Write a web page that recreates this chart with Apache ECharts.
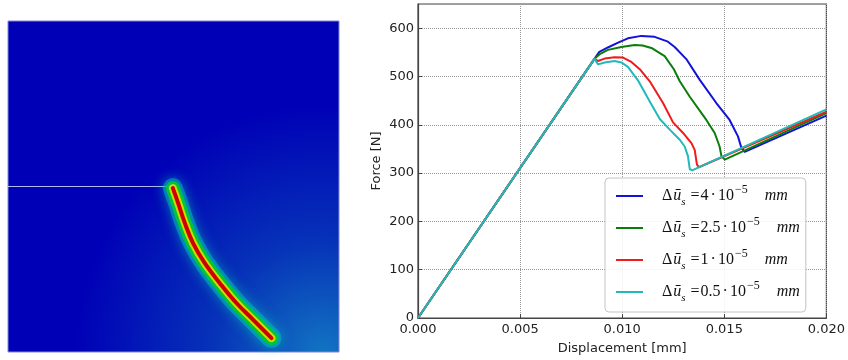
<!DOCTYPE html>
<html>
<head>
<meta charset="utf-8">
<script src="https://cdn.jsdelivr.net/npm/echarts@6/dist/echarts.min.js"></script>
<style>
html, body { margin: 0; padding: 0; background: #fff; }
#chart { width: 848px; height: 360px; }
</style>
</head>
<body>
<div id="chart"></div>
<script>
// force-displacement curves, x in mm, y in N
var names = ['4', '2.5', '1', '0.5'];
var colors = ['#1212d8', '#0a7d0a', '#ee1c1c', '#20baba'];

var blueX = [0, 0.00865, 0.00888, 0.0093, 0.0098, 0.01028, 0.01094, 0.01159, 0.01224, 0.01257, 0.01314, 0.0138, 0.01461, 0.01526, 0.01567, 0.01584, 0.0160, 0.02];
var blueY = [0, 537, 551, 560, 570, 579, 584, 582, 572, 561, 536, 493, 445, 410, 376, 352, 344, 419];

var greenX = [0, 0.00865, 0.0089, 0.0093, 0.00996, 0.01061, 0.011, 0.01143, 0.01208, 0.01253, 0.01282, 0.01331, 0.01412, 0.01453, 0.01477, 0.01486, 0.01502, 0.02];
var greenY = [0, 537, 546, 555, 561, 565, 564, 559, 542, 515, 490, 458, 410, 383, 355, 335, 328, 424];

var redX = [0, 0.00865, 0.00881, 0.00914, 0.00963, 0.01004, 0.01045, 0.01086, 0.01135, 0.012, 0.01249, 0.01298, 0.01339, 0.01355, 0.01366, 0.01375, 0.02];
var redY = [0, 537, 532, 537, 540, 539, 530, 515, 490, 445, 405, 383, 362, 348, 318, 312, 427];

var cyanX = [0, 0.00865, 0.00874, 0.00882, 0.00914, 0.00963, 0.00996, 0.01028, 0.01077, 0.01135, 0.01184, 0.01233, 0.01282, 0.01306, 0.01322, 0.01331, 0.01345, 0.02];
var cyanY = [0, 537, 530, 525, 529, 532, 529, 520, 492, 448, 412, 390, 369, 355, 335, 308, 306, 432];

// crack path in the left contour picture (normalised 0..1)
var notchX = [0, 0.479];
var notchY = [0.5, 0.5];
var crackX = [0.498, 0.514, 0.534, 0.559, 0.594, 0.640, 0.690, 0.740, 0.796];
var crackY = [0.495, 0.450, 0.390, 0.329, 0.269, 0.208, 0.148, 0.098, 0.042];

function zip(xs, ys) {
	return xs.map(function(x, i) { return [x, ys[i]]; });
}

var curves = [zip(blueX, blueY), zip(greenX, greenY), zip(redX, redY), zip(cyanX, cyanY)];
var crack = zip(crackX, crackY);

var myChart = echarts.init(document.getElementById('chart'));

var serif = 'Liberation Serif';
var lineSeries = curves.map(function(d, i) {
	return {
		name: names[i],
		type: 'line',
		xAxisIndex: 1,
		yAxisIndex: 1,
		data: d,
		symbol: 'none',
		smooth: false,
		lineStyle: { color: colors[i], width: 2, join: 'round' },
		itemStyle: { color: colors[i] },
		z: 3 + i
	};
});

// crack drawn as layered thick lines (cyan glow -> green -> yellow -> red)
var crackLayers = [
	{ w: 20, c: 'rgba(0,190,190,0.5)', blur: 12 },
	{ w: 14, c: '#00c43c', blur: 0 },
	{ w: 8, c: '#c8de00', blur: 0 },
	{ w: 4, c: '#d00000', blur: 0 }
];
var crackSeries = crackLayers.map(function(l, i) {
	return {
		type: 'line',
		xAxisIndex: 0,
		yAxisIndex: 0,
		data: crack,
		symbol: 'none',
		smooth: 0.4,
		silent: true,
		lineStyle: { color: l.c, width: l.w, cap: 'round', join: 'round', shadowBlur: l.blur, shadowColor: '#00d0b0' },
		z: 2 + i
	};
});

var option = {
	animation: false,
	color: colors,
	grid: [{
		left: 8,
		top: 21,
		width: 331,
		height: 331,
		show: true,
		borderColor: '#8088d8',
		borderWidth: 1,
		backgroundColor: {
			type: 'radial', x: 0.95, y: 1.0, r: 0.75,
			colorStops: [
				{ offset: 0, color: '#1274c2' },
				{ offset: 0.45, color: '#0632b8' },
				{ offset: 1, color: '#0000b6' }
			]
		}
	}, {
		left: 418,
		top: 4,
		right: 21,
		bottom: 41,
		show: true,
		borderColor: '#444',
		borderWidth: 1.2
	}],
	legend: {
		orient: 'vertical',
		left: 605,
		top: 178,
		padding: [6, 6, 8, 11],
		itemGap: 8,
		itemWidth: 27,
		itemHeight: 2,
		icon: 'rect',
		backgroundColor: 'rgba(255,255,255,0.85)',
		borderColor: '#c4c4c4',
		borderWidth: 1,
		borderRadius: 4,
		data: names,
		formatter: function(name) {
			return '{d|Δ}{u|ū}{s|s}{e|=}{t|' + name + '}{c|·}{t|10}{p|−5}{m|mm}';
		},
		textStyle: {
			color: '#111',
			rich: {
				d: { fontFamily: serif, fontSize: 16, lineHeight: 24, padding: [0, 0, 0, 14] },
				u: { fontFamily: serif, fontSize: 16, fontStyle: 'italic', lineHeight: 24, padding: [0, 0, 0, 1] },
				s: { fontFamily: serif, fontSize: 11, fontStyle: 'italic', lineHeight: 12, verticalAlign: 'bottom', padding: [0, 5, 0, 0] },
				e: { fontFamily: serif, fontSize: 16, lineHeight: 24, padding: [0, 1, 0, 0] },
				t: { fontFamily: serif, fontSize: 16, lineHeight: 24 },
				c: { fontFamily: serif, fontSize: 16, lineHeight: 24, padding: [0, 2, 0, 2] },
				p: { fontFamily: serif, fontSize: 12, lineHeight: 12, verticalAlign: 'top', padding: [0, 17, 0, 1] },
				m: { fontFamily: serif, fontSize: 16, fontStyle: 'italic', lineHeight: 24 }
			}
		}
	},
	xAxis: [{
		gridIndex: 0,
		type: 'value',
		min: 0,
		max: 1,
		show: false
	}, {
		gridIndex: 1,
		type: 'value',
		min: 0,
		max: 0.02,
		interval: 0.005,
		name: 'Displacement [mm]',
		nameLocation: 'middle',
		nameGap: 24,
		nameTextStyle: { fontFamily: 'DejaVu Sans', fontSize: 13, color: '#222' },
		axisLine: { lineStyle: { color: '#444', width: 1.2 } },
		axisTick: { inside: true, length: 4, lineStyle: { color: '#444' } },
		axisLabel: {
			fontFamily: 'DejaVu Sans', fontSize: 13, color: '#222', margin: 5,
			formatter: function(v) { return v.toFixed(3); }
		},
		splitLine: { show: true, lineStyle: { type: 'dotted', color: '#999', width: 1 } }
	}],
	yAxis: [{
		gridIndex: 0,
		type: 'value',
		min: 0,
		max: 1,
		show: false
	}, {
		gridIndex: 1,
		type: 'value',
		min: 0,
		max: 650,
		interval: 100,
		name: 'Force [N]',
		nameLocation: 'middle',
		nameGap: 35,
		nameTextStyle: { fontFamily: 'DejaVu Sans', fontSize: 13, color: '#222' },
		axisLine: { show: true, lineStyle: { color: '#444', width: 1.2 } },
		axisTick: { show: true, inside: true, length: 4, lineStyle: { color: '#444' } },
		axisLabel: {
			fontFamily: 'DejaVu Sans', fontSize: 13, color: '#222', margin: 4,
			showMaxLabel: false
		},
		splitLine: { show: true, lineStyle: { type: 'dotted', color: '#999', width: 1 } }
	}],
	series: [{
		type: 'line',
		xAxisIndex: 0,
		yAxisIndex: 0,
		data: zip(notchX, notchY),
		symbol: 'none',
		silent: true,
		lineStyle: { color: 'rgba(210,215,255,0.85)', width: 1 },
		z: 2
	}].concat(crackSeries, lineSeries)
};
myChart.setOption(option);

window.addEventListener('resize', function() {
	myChart.resize();
});
</script>
</body>
</html>
